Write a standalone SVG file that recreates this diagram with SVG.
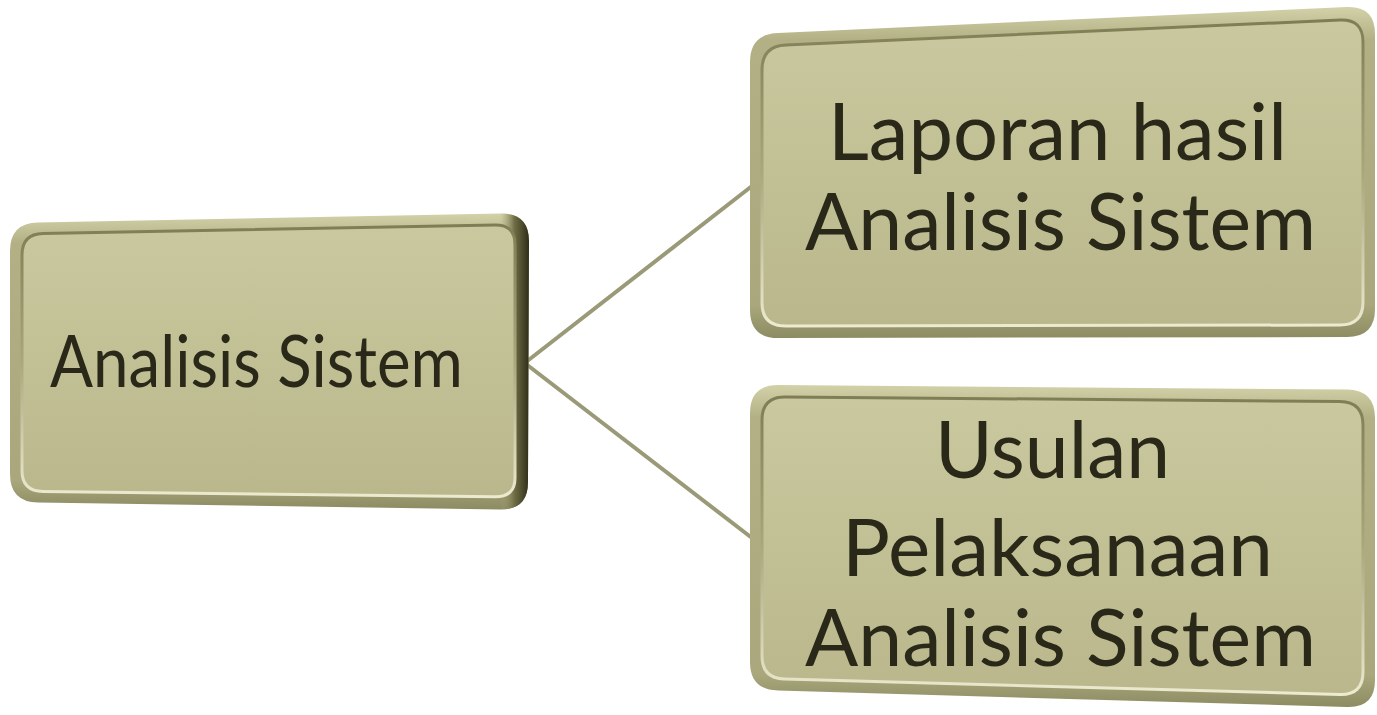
<svg xmlns="http://www.w3.org/2000/svg" width="1377" height="715" viewBox="0 0 1377 715">
<style>
.lbl{font-family:Lato,"Open Sans","Liberation Sans",sans-serif;fill:#2a2818;text-anchor:start}
.rim{fill:url(#rimG)}
.face{fill:url(#faceG);stroke:url(#edgeG);stroke-width:3}
.conn{stroke:#9b9a78;stroke-width:4;fill:none;stroke-linecap:round}
</style>
<defs>
<linearGradient id="rimG" x1="0" y1="0" x2="0" y2="1">
<stop offset="0" stop-color="#d3d1a8"/>
<stop offset="0.1" stop-color="#b2b084"/>
<stop offset="0.9" stop-color="#a9a77b"/>
<stop offset="1" stop-color="#8d8b62"/>
</linearGradient>
<linearGradient id="faceG" x1="0" y1="0" x2="0" y2="1">
<stop offset="0" stop-color="#cac89e"/>
<stop offset="1" stop-color="#b9b78b"/>
</linearGradient>
<linearGradient id="edgeG" x1="0" y1="0" x2="0" y2="1">
<stop offset="0" stop-color="#7f7d55"/>
<stop offset="0.5" stop-color="#a9a77c"/>
<stop offset="1" stop-color="#ecead0"/>
</linearGradient>
<linearGradient id="darkR" x1="0" y1="0" x2="1" y2="0">
<stop offset="0" stop-color="#a9a77b" stop-opacity="0"/>
<stop offset="0.45" stop-color="#6f6d45"/>
<stop offset="1" stop-color="#22210f"/>
</linearGradient>
<clipPath id="clipL"><path d="M 10,251 Q 10,223 38,222.5 L 501,213.5 Q 529,213 529,241 L 528,482 Q 528,510 500,509.5 L 38,502.5 Q 10,502 10,474 Z"/></clipPath>
</defs>

<g id="connectors">
<line class="conn" x1="526" y1="362" x2="752" y2="186"/>
<line class="conn" x1="526" y1="364" x2="752" y2="538"/>
</g>

<g id="node-analisis">
<path class="rim" d="M 10,251 Q 10,223 38,222.5 L 501,213.5 Q 529,213 529,241 L 528,482 Q 528,510 500,509.5 L 38,502.5 Q 10,502 10,474 Z"/>
<rect x="500" y="205" width="32" height="310" fill="url(#darkR)" clip-path="url(#clipL)"/>
<path class="face" d="M 22,255 Q 22,234 43,233.6 L 495,225 Q 515,224.6 515,245 L 515,478 Q 515,497 495,496.8 L 43,491.5 Q 22,491 22,471 Z"/>
<text class="lbl" x="50" y="387" font-size="71" textLength="413" lengthAdjust="spacingAndGlyphs">Analisis Sistem</text>
</g>

<g id="node-laporan">
<path class="rim" d="M 750,62 Q 750,34 778,33 L 1347,7 Q 1375,6 1375,34 L 1375,309 Q 1375,337 1347,337 L 778,338 Q 750,338 750,310 Z"/>
<path class="face" d="M 762,70 Q 762,46 786,45 L 1340,20 Q 1363,19 1363,42 L 1363,302 Q 1363,325 1340,325 L 786,326 Q 762,326 762,303 Z"/>
<text class="lbl" x="828" y="160" font-size="79" textLength="459" lengthAdjust="spacingAndGlyphs">Laporan hasil</text>
<text class="lbl" x="805" y="250" font-size="79" textLength="511" lengthAdjust="spacingAndGlyphs">Analisis Sistem</text>
</g>

<g id="node-usulan">
<path class="rim" d="M 750,413 Q 750,385 778,385 L 1347,389.5 Q 1375,390 1375,418 L 1375,680 Q 1375,708 1347,707 L 778,690.5 Q 750,690 750,662 Z"/>
<path class="face" d="M 762,420 Q 762,397 785,397 L 1340,401.5 Q 1363,402 1363,425 L 1363,672 Q 1363,695 1340,694.5 L 785,679 Q 762,678.5 762,656 Z"/>
<text class="lbl" x="935" y="478" font-size="79" textLength="235" lengthAdjust="spacingAndGlyphs">Usulan</text>
<text class="lbl" x="842" y="576" font-size="79" textLength="431" lengthAdjust="spacingAndGlyphs">Pelaksanaan</text>
<text class="lbl" x="805" y="666" font-size="79" textLength="511" lengthAdjust="spacingAndGlyphs">Analisis Sistem</text>
</g>
</svg>
